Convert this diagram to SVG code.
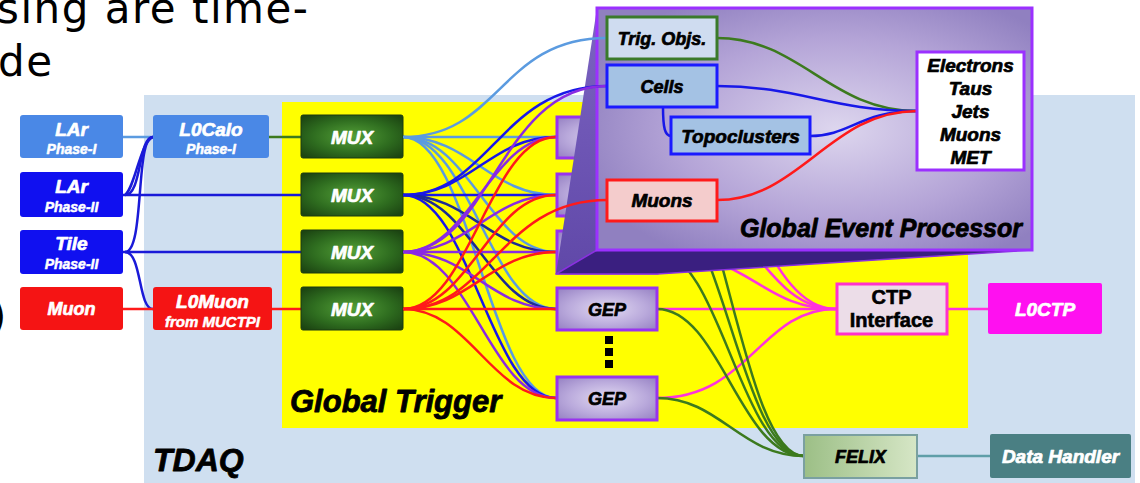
<svg xmlns="http://www.w3.org/2000/svg" width="1140" height="483" viewBox="0 0 1140 483">
<defs>
<radialGradient id="gMux" cx="50%" cy="50%" r="65%">
<stop offset="0" stop-color="#54a038"/><stop offset="0.6" stop-color="#2e6c1f"/><stop offset="1" stop-color="#1c4512"/>
</radialGradient>
<radialGradient id="gGep" cx="50%" cy="50%" r="65%">
<stop offset="0" stop-color="#e2daf2"/><stop offset="0.6" stop-color="#baaadc"/><stop offset="1" stop-color="#9a86c6"/>
</radialGradient>
<radialGradient id="gPanel" cx="55%" cy="50%" r="62%">
<stop offset="0" stop-color="#ddd6ee"/><stop offset="0.6" stop-color="#b4a4d7"/><stop offset="1" stop-color="#9080c0"/>
</radialGradient>
<linearGradient id="gFelix" x1="0" y1="0" x2="1" y2="0">
<stop offset="0" stop-color="#9cbf86"/><stop offset="1" stop-color="#d6e6c6"/>
</linearGradient>
<linearGradient id="gFace" x1="0" y1="0" x2="0" y2="1">
<stop offset="0" stop-color="#7c64c2"/><stop offset="1" stop-color="#6048a8"/>
</linearGradient>
<style>
.lbl{font-family:"Liberation Sans",Arial,sans-serif;font-weight:bold;font-style:italic;text-anchor:middle;stroke-width:0.7px;stroke-linejoin:round}
.big{font-family:"Liberation Sans",Arial,sans-serif;font-weight:bold;font-style:italic;fill:#000;stroke:#000;stroke-width:0.8px;stroke-linejoin:round}
.w{fill:#ffffff;stroke:#ffffff}
.k{fill:#000000;stroke:#000000}
.f19{font-size:19px}
.f18{font-size:18px}
.f14{font-size:14px;stroke-width:0.5px}
.f15{font-size:15px;stroke-width:0.5px}
.c{fill:none;stroke-width:2.5}
.lb{stroke:#5b9be0}
.bl{stroke:#1818e8}
.nv{stroke:#1c2a96}
.pu{stroke:#8a2be2}
.rd{stroke:#ff1a1a}
.pk{stroke:#ff33dd}
.gr{stroke:#3c7a1e}
.mux{fill:url(#gMux);stroke:#1a3a10;stroke-width:1}
.gep{fill:url(#gGep);stroke:#9933ee;stroke-width:3}
.slide{font-family:"DejaVu Sans",sans-serif;font-size:42px;fill:#000;letter-spacing:1.5px}
</style>
</defs>
<rect width="1140" height="483" fill="#ffffff"/>
<text class="slide" x="-3" y="23">sing are time-</text>
<text class="slide" x="-2" y="76">de</text>
<text class="slide" x="-10" y="331">)</text>

<g id="tdaq">
<rect x="144" y="95" width="991" height="388" fill="#cfdff0"/>
<text class="big" x="153" y="471" font-size="32">TDAQ</text>
</g>
<g id="global-trigger">
<rect x="282" y="102" width="686" height="326" fill="#ffff00"/>
<text class="big" x="290" y="412" font-size="31">Global Trigger</text>
</g>

<g id="connectors">
<path class="c" stroke="#5b9be0" stroke-width="2" d="M123,137 L153,137"/>
<path class="c" stroke="#1a1ad8" stroke-width="2" d="M123,195 L302,195"/>
<path class="c" stroke="#1a1ad8" stroke-width="2" d="M123,252 L302,252"/>
<path class="c" stroke="#1a1ad8" stroke-width="2" d="M125,195 C142,195 138,137 153,137"/>
<path class="c" stroke="#1a1ad8" stroke-width="2" d="M125,195 C135,188 140,142 153,137"/>
<path class="c" stroke="#1a1ad8" stroke-width="2" d="M125,252 C145,252 135,137 153,137"/>
<path class="c" stroke="#1a1ad8" stroke-width="2" d="M125,252 C142,252 138,309 153,309"/>
<path class="c" stroke="#ff1a1a" stroke-width="2" d="M123,309 L153,309"/>
<path class="c" stroke="#3c7a1e" stroke-width="2" d="M269,137 L302,137"/>
<path class="c" stroke="#ff1a1a" stroke-width="2" d="M272,309 L302,309"/>
<path class="c lb" d="M403,137 L556,137"/>
<path class="c lb" d="M403,137 C470,137 490,195 556,195"/>
<path class="c lb" d="M403,137 C470,137 490,252 556,252"/>
<path class="c lb" d="M403,137 C470,137 490,309 556,309"/>
<path class="c lb" d="M403,137 C470,137 490,398 556,398"/>
<path class="c bl" d="M403,195 C470,195 490,137 556,137"/>
<path class="c bl" d="M403,195 L556,195"/>
<path class="c nv" d="M403,195 C470,195 490,252 556,252"/>
<path class="c nv" d="M403,195 C470,195 490,309 556,309"/>
<path class="c bl" d="M403,195 C470,195 490,398 556,398"/>
<path class="c pu" d="M403,252 C470,252 490,137 556,137"/>
<path class="c pu" d="M403,252 C470,252 490,195 556,195"/>
<path class="c pu" d="M403,252 L556,252"/>
<path class="c pu" d="M403,252 C470,252 490,309 556,309"/>
<path class="c pu" d="M403,252 C470,252 490,398 556,398"/>
<path class="c rd" d="M403,309 C470,309 490,137 556,137"/>
<path class="c rd" d="M403,309 C470,309 490,195 556,195"/>
<path class="c rd" d="M403,309 C470,309 490,252 556,252"/>
<path class="c rd" d="M403,309 L556,309"/>
<path class="c rd" d="M403,309 C470,309 490,398 556,398"/>
<path class="c pk" d="M657,137 C750,137 760,309 836,309"/>
<path class="c pk" d="M657,195 C750,195 760,309 836,309"/>
<path class="c pk" d="M657,252 C750,252 760,309 836,309"/>
<path class="c pk" d="M657,309 L836,309"/>
<path class="c pk" d="M657,398 C750,398 760,309 836,309"/>
<path class="c gr" d="M657,137 C720,137 740,456 804,456"/>
<path class="c gr" d="M657,195 C720,195 740,456 804,456"/>
<path class="c gr" d="M657,252 C720,252 740,456 804,456"/>
<path class="c gr" d="M657,309 C720,309 740,456 804,456"/>
<path class="c gr" d="M657,398 C720,398 740,456 804,456"/>
<path class="c pk" d="M947,309 L988,309"/>
<path class="c" stroke="#5f9ea8" stroke-width="2" d="M917,456 L990,456"/>
</g>

<g id="lar-phase1">
<rect x="20" y="115" width="103" height="43" rx="3" fill="#4a88e6"/>
<text class="lbl w f19" x="71.5" y="136">LAr</text>
<text class="lbl w f14" x="71.5" y="154">Phase-I</text>
</g>
<g id="lar-phase2">
<rect x="20" y="172" width="103" height="45" rx="3" fill="#1010f0"/>
<text class="lbl w f19" x="71.5" y="193">LAr</text>
<text class="lbl w f14" x="71.5" y="212">Phase-II</text>
</g>
<g id="tile-phase2">
<rect x="20" y="230" width="103" height="44" rx="3" fill="#1010f0"/>
<text class="lbl w f19" x="71.5" y="250">Tile</text>
<text class="lbl w f14" x="71.5" y="269">Phase-II</text>
</g>
<g id="muon">
<rect x="20" y="287" width="103" height="43" rx="3" fill="#f51414"/>
<text class="lbl w f18" x="71.5" y="315">Muon</text>
</g>
<g id="l0calo">
<rect x="153" y="115" width="116" height="43" rx="3" fill="#4a88e6"/>
<text class="lbl w f19" x="211" y="136">L0Calo</text>
<text class="lbl w f14" x="211" y="154">Phase-I</text>
</g>
<g id="l0muon">
<rect x="153" y="287" width="119" height="43" rx="3" fill="#f51414"/>
<text class="lbl w f19" x="212.5" y="308">L0Muon</text>
<text class="lbl w f15" x="212.5" y="327">from MUCTPI</text>
</g>

<g id="mux1"><rect class="mux" x="301" y="115" width="102" height="43" rx="2"/><text class="lbl w f19" x="352" y="144">MUX</text></g>
<g id="mux2"><rect class="mux" x="301" y="173" width="102" height="43" rx="2"/><text class="lbl w f19" x="352" y="202">MUX</text></g>
<g id="mux3"><rect class="mux" x="301" y="230" width="102" height="43" rx="2"/><text class="lbl w f19" x="352" y="259">MUX</text></g>
<g id="mux4"><rect class="mux" x="301" y="287" width="102" height="43" rx="2"/><text class="lbl w f19" x="352" y="316">MUX</text></g>

<g id="gep-a"><rect class="gep" x="557" y="117" width="100" height="41"/></g>
<g id="gep-b"><rect class="gep" x="557" y="174" width="100" height="42"/></g>
<g id="gep-c"><rect class="gep" x="557" y="231" width="100" height="42"/></g>
<g id="gep-1"><rect class="gep" x="557" y="288" width="100" height="42"/><text class="lbl k f18" x="607" y="316">GEP</text></g>
<g id="gep-dots" fill="#000"><rect x="605" y="336" width="8" height="8"/><rect x="605" y="348" width="8" height="8"/><rect x="605" y="360" width="8" height="8"/></g>
<g id="gep-n"><rect class="gep" x="557" y="377" width="100" height="43"/><text class="lbl k f18" x="607" y="405">GEP</text></g>

<g id="ctp-interface">
<rect x="837" y="284" width="110" height="50" fill="#ecdde8" stroke="#ff33cc" stroke-width="3"/>
<text x="891.5" y="304" font-family="Liberation Sans, Arial, sans-serif" font-size="20" font-weight="bold" text-anchor="middle" fill="#000" stroke="#000" stroke-width="0.6">CTP</text>
<text x="891.5" y="327" font-family="Liberation Sans, Arial, sans-serif" font-size="20" font-weight="bold" text-anchor="middle" fill="#000" stroke="#000" stroke-width="0.6">Interface</text>
</g>
<g id="l0ctp">
<rect x="988" y="283" width="114" height="51" rx="2" fill="#ff10f0"/>
<text class="lbl w f19" x="1045" y="316">L0CTP</text>
</g>
<g id="felix">
<rect x="804" y="435" width="113" height="43" fill="url(#gFelix)" stroke="#7aa0a0" stroke-width="2"/>
<text class="lbl k f18" x="860.5" y="463">FELIX</text>
</g>
<g id="data-handler">
<rect x="990" y="434" width="141" height="44" rx="2" fill="#4a7f83"/>
<text class="lbl w f19" x="1060.5" y="463">Data Handler</text>
</g>

<g id="gep-panel">
<polygon points="597,8 597,250 556,274" fill="url(#gFace)"/>
<polygon points="556,274 597,250 1032,250 657,274" fill="#3a1f80" stroke="#8a30e0" stroke-width="1.5" stroke-linejoin="round"/>
<rect x="597" y="8" width="435" height="242" fill="url(#gPanel)" stroke="#9b30ff" stroke-width="3"/>
<text class="big" x="1022" y="237" font-size="25" text-anchor="end">Global Event Processor</text>
</g>

<g id="connectors-gep">
<path class="c lb" d="M403,137 C500,137 500,38 607,38"/>
<path class="c bl" d="M403,195 C490,195 500,86 607,86"/>
<path class="c pu" d="M403,252 C490,252 500,86 607,86"/>
<path class="c rd" d="M403,309 C490,309 500,200 607,200"/>
<path class="c" stroke="#3c7a1e" d="M717,38 C800,38 830,111 917,111"/>
<path class="c" stroke="#1818e8" d="M717,86 C800,86 830,111 917,111"/>
<path class="c" stroke="#1818e8" d="M810,136 C850,136 860,111 917,111"/>
<path class="c" stroke="#ff1a1a" d="M717,200 C800,200 830,111 917,111"/>
<path class="c" stroke="#1818e8" d="M663,107 C663,128 665,136 671,136"/>
</g>

<g id="trig-objs">
<rect x="607" y="17" width="110" height="42" fill="#cfdcf0" stroke="#3a7a2a" stroke-width="3"/>
<text class="lbl k f18" x="662" y="45">Trig. Objs.</text>
</g>
<g id="cells">
<rect x="607" y="65" width="110" height="42" fill="#a4c2e4" stroke="#1a1aff" stroke-width="3"/>
<text class="lbl k f18" x="662" y="93">Cells</text>
</g>
<g id="topoclusters">
<rect x="671" y="117" width="139" height="37" fill="#a4c2e4" stroke="#1a1aff" stroke-width="3"/>
<text class="lbl k f19" x="740.5" y="143">Topoclusters</text>
</g>
<g id="muons">
<rect x="607" y="180" width="110" height="41" fill="#f4cccc" stroke="#ff1a1a" stroke-width="3"/>
<text class="lbl k f19" x="662" y="207">Muons</text>
</g>
<g id="objects">
<rect x="917" y="52" width="107" height="118" fill="#ffffff" stroke="#9b30ff" stroke-width="3"/>
<text class="lbl k f19" x="970.5" y="72">Electrons</text>
<text class="lbl k f19" x="970.5" y="95">Taus</text>
<text class="lbl k f19" x="970.5" y="118">Jets</text>
<text class="lbl k f19" x="970.5" y="141">Muons</text>
<text class="lbl k f19" x="970.5" y="164">MET</text>
</g>
</svg>
